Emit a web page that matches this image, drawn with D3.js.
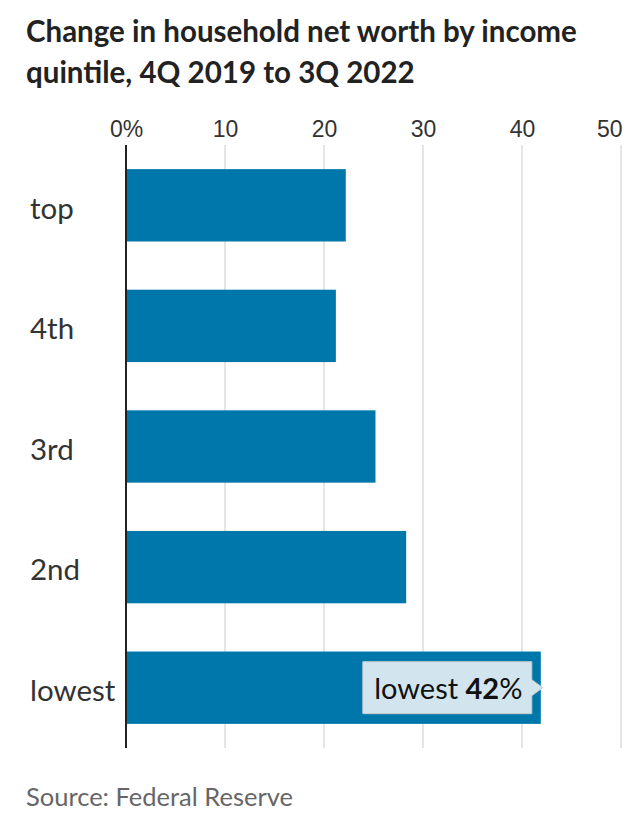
<!DOCTYPE html>
<html>
<head>
<meta charset="utf-8">
<script src="https://cdn.jsdelivr.net/npm/d3@7"></script>
<style>
	body { margin: 0; background: #fff; }
	svg { display: block; font-family: Lato, "DejaVu Sans", sans-serif; }
</style>
</head>
<body>
<svg id="chart" width="640" height="828"></svg>
<script>
// quintiles, top to bottom
var categories = ["top", "4th", "3rd", "2nd", "lowest"];
var values = [22.2, 21.2, 25.2, 28.3, 41.9];
var tickValues = [0, 10, 20, 30, 40, 50];
var tickLabels = ["0%", "10", "20", "30", "40", "50"];
var noteCategory = "lowest";
var noteLabel = "42";

var series = categories.map((c, i) => ({name: c, value: values[i]}));

var width = 640, height = 828;
var margin = {top: 145, right: 19, bottom: 80, left: 126};

var svg = d3.select("#chart");

x = d3.scaleLinear()
	.domain([0, 50])
	.range([margin.left, width - margin.right]);

y = d3.scaleBand()
	.domain(categories)
	.range([margin.top, height - margin.bottom])
	.paddingInner(0.4)
	.paddingOuter(0.2);

// title
var title = svg.append("text")
	.attr("x", 26)
	.attr("font-weight", "bold")
	.attr("font-size", 29.5)
	.attr("fill", "#222");
title.append("tspan").attr("x", 26).attr("y", 42).text("Change in household net worth by income");
title.append("tspan").attr("x", 26).attr("y", 83).text("quintile, 4Q 2019 to 3Q 2022");

// gridlines + tick labels
var xAxis = g => g
	.attr("transform", `translate(0,${margin.top})`)
	.call(d3.axisTop(x).tickValues(tickValues).tickSize(0).tickPadding(8)
		.tickFormat((d, i) => tickLabels[i]))
	.call(g => g.select(".domain").remove())
	.call(g => g.selectAll(".tick text")
		.attr("font-size", 23)
		.attr("fill", "#333")
		.attr("font-family", null)
		.attr("text-anchor", d => d === 50 ? "end" : "middle")
		.attr("dx", d => d === 50 ? 1 : 0));

svg.append("g")
	.attr("stroke", "#dddddd")
	.attr("stroke-width", 1.5)
	.selectAll("line").data(tickValues.slice(1)).enter()
	.append("line")
	.attr("x1", d => x(d)).attr("x2", d => x(d))
	.attr("y1", margin.top).attr("y2", height - margin.bottom);

svg.append("g").call(xAxis);

// bars
svg.append("g")
	.attr("fill", "#0077aa")
	.selectAll("rect").data(series).enter()
	.append("rect")
	.attr("x", x(0))
	.attr("y", d => y(d.name))
	.attr("height", y.bandwidth())
	.attr("width", d => x(d.value) - x(0));

// zero line
svg.append("line")
	.attr("x1", x(0)).attr("x2", x(0))
	.attr("y1", margin.top).attr("y2", height - margin.bottom)
	.attr("stroke", "#222")
	.attr("stroke-width", 2);

// category labels
svg.append("g")
	.selectAll("text").data(series).enter()
	.append("text")
	.attr("x", 30)
	.attr("y", d => y(d.name) + y.bandwidth() / 2 + 3)
	.attr("dy", "0.35em")
	.attr("font-size", 29.5)
	.attr("fill", "#333")
	.text(d => d.name);

// tooltip note on the lowest bar
var nd = series.find(d => d.name === noteCategory);
var tipRight = x(nd.value) - 9, tipW = 169, tipH = 52;
var tipY = y(nd.name) + y.bandwidth() / 2;
var tip = svg.append("g");
tip.append("path")
	.attr("d", `M${tipRight - tipW},${tipY - tipH / 2}H${tipRight}V${tipY - 8}L${tipRight + 11},${tipY}L${tipRight},${tipY + 8}V${tipY + tipH / 2}H${tipRight - tipW}Z`)
	.attr("fill", "#d2e5ef")
	.attr("stroke", "#c8c8c8")
	.attr("stroke-width", 1);
var tt = tip.append("text")
	.attr("x", tipRight - tipW / 2 + 1)
	.attr("y", tipY + 1)
	.attr("dy", "0.35em")
	.attr("text-anchor", "middle")
	.attr("font-size", 29)
	.attr("fill", "#111");
tt.append("tspan").text(noteCategory + " ");
tt.append("tspan").attr("font-weight", "bold").text(noteLabel);
tt.append("tspan").text("%");

// source
svg.append("text")
	.attr("x", 26)
	.attr("y", 806)
	.attr("font-size", 25.5)
	.attr("fill", "#666")
	.text("Source: Federal Reserve");
</script>
</body>
</html>
